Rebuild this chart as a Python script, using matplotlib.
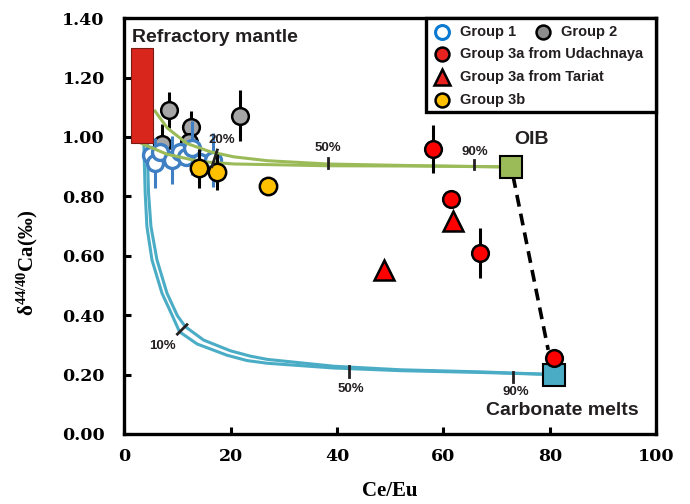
import matplotlib
matplotlib.use("Agg")
import matplotlib.pyplot as plt
from matplotlib.patches import Rectangle

plt.rcParams['mathtext.default'] = 'regular'

# ---- data ----
g1_x = [5.1, 5.8, 6.8, 9.0, 10.5, 11.7, 12.8, 14.3, 16.6]
g1_y = [0.939, 0.912, 0.949, 0.922, 0.949, 0.932, 0.963, 0.915, 0.922]
g1_err = [0.03, 0.085, 0.03, 0.08, 0.03, 0.03, 0.09, 0.03, 0.09]

g2_x = [8.5, 12.6, 21.7, 7.1, 12.1]
g2_y = [1.09, 1.032, 1.072, 0.975, 0.982]
g2_err = [0.06, 0.055, 0.085, 0.07, 0.0]

g3b_x = [14.0, 17.5, 27.1]
g3b_y = [0.894, 0.881, 0.835]
g3b_err = [0.067, 0.06, 0.0]

uda_x = [58.0, 61.4, 66.9, 80.8]
uda_y = [0.960, 0.790, 0.610, 0.255]
uda_err = [0.08, 0.0, 0.085, 0.0]

tariat_x = [61.8, 48.8]
tariat_y = [0.718, 0.552]

mantle_x = [1.3, 5.5]
mantle_y = [0.98, 1.30]
oib = (72.7, 0.90)
carb = (80.8, 0.20)

# mixing curves (mantle -> OIB, mantle -> carbonate melt)
green_up_x = [5.8, 8.1, 11.8, 16.2, 20.6, 26.9, 38.2, 55.7, 72.7]
green_up_y = [1.087, 1.030, 0.978, 0.950, 0.933, 0.920, 0.909, 0.903, 0.899]
green_lo_x = [3.3, 8.0, 14.3, 20.6, 38.2, 55.7, 72.7]
green_lo_y = [0.978, 0.942, 0.917, 0.909, 0.903, 0.902, 0.899]

blue_out_x = [4.4, 4.39, 4.58, 5.03, 6.16, 8.04, 10.0, 11.5, 14.93, 19.96, 23.7, 26.9,
              39.4, 52.0, 67.0, 80.8]
blue_out_y = [0.98, 0.922, 0.810, 0.698, 0.586, 0.474, 0.398, 0.361, 0.316, 0.280,
              0.262, 0.251, 0.228, 0.216, 0.209, 0.20]
blue_in_x = [3.7, 3.77, 3.95, 4.27, 5.22, 7.10, 9.0, 10.4, 13.69, 19.34, 23.1, 26.9,
             39.4, 52.0, 67.0, 80.8]
blue_in_y = [0.98, 0.922, 0.810, 0.698, 0.586, 0.474, 0.400, 0.344, 0.303, 0.265,
             0.247, 0.238, 0.222, 0.213, 0.207, 0.20]

dash_x = [73.1, 79.7]
dash_y = [0.868, 0.283]

# percent marks on the mixing curves: (x0, y0, x1, y1, label, lx, ly)
pct_marks = [
    (17.5, 0.956, 16.5, 0.900, '20%', 18.4, 0.99),
    (38.4, 0.928, 38.4, 0.894, '50%', 38.2, 0.963),
    (65.8, 0.922, 65.8, 0.892, '90%', 65.9, 0.950),
    (10.0, 0.336, 11.8, 0.368, '10%', 7.1, 0.297),
    (42.2, 0.229, 42.2, 0.191, '50%', 42.6, 0.150),
    (73.0, 0.208, 73.0, 0.174, '90%', 73.6, 0.142),
]

x_ticks = [0, 20, 40, 60, 80, 100]
y_ticks = [0.0, 0.2, 0.4, 0.6, 0.8, 1.0, 1.2, 1.4]

# ---- colours ----
c_green = '#9bbb59'
c_blue = '#4bacc6'
c_g1 = '#3f7fc4'
c_gray = '#a6a6a6'
c_red = '#ff0000'
c_yellow = '#ffc000'
c_txt = '#231f20'

fig = plt.figure(figsize=(6.9, 5.04), dpi=100)
ax = fig.add_axes([0.180, 0.139, 0.771, 0.825])

# mixing curves
ax.plot(blue_out_x, blue_out_y, color=c_blue, lw=2.2, zorder=2, solid_joinstyle='round')
ax.plot(blue_in_x, blue_in_y, color=c_blue, lw=2.2, zorder=2, solid_joinstyle='round')

# group 2 (gray)
ax.errorbar(g2_x, g2_y, yerr=g2_err, fmt='o', ms=12, mfc=c_gray, mec='black',
            mew=1.8, ecolor='black', elinewidth=2.2, capsize=0, zorder=3)
# group 1 (open blue)
ax.errorbar(g1_x, g1_y, yerr=g1_err, fmt='o', ms=11.5, mfc='white', mec=c_g1,
            mew=2.4, ecolor=c_g1, elinewidth=2.2, capsize=0, zorder=4)

ax.plot(green_up_x, green_up_y, color=c_green, lw=2.2, zorder=5, solid_joinstyle='round')
ax.plot(green_lo_x, green_lo_y, color=c_green, lw=2.2, zorder=5, solid_joinstyle='round')

# refractory mantle box
ax.add_patch(Rectangle((mantle_x[0], mantle_y[0]), mantle_x[1] - mantle_x[0],
                       mantle_y[1] - mantle_y[0], facecolor='#d9261c',
                       edgecolor='#7a1a14', lw=0.8, zorder=6))

# group 3b (yellow)
ax.errorbar(g3b_x, g3b_y, yerr=g3b_err, fmt='o', ms=12.5, mfc=c_yellow, mec='black',
            mew=1.8, ecolor='black', elinewidth=2.2, capsize=0, zorder=6)

for x0, y0, x1, y1, lab, lx, ly in pct_marks:
    ax.plot([x0, x1], [y0, y1], color=c_txt, lw=2.0, zorder=7)
    ax.text(lx, ly, lab, ha='center', va='center', fontsize=9.5,
            fontweight='bold', family='Liberation Sans', color=c_txt, zorder=7)

# OIB - carbonate dashed link
ax.plot(dash_x, dash_y, color='black', lw=2.6, ls=(0, (3.3, 2)), zorder=6)

# group 3a
ax.errorbar(uda_x, uda_y, yerr=uda_err, fmt='o', ms=12, mfc=c_red, mec='black',
            mew=1.8, ecolor='black', elinewidth=2.2, capsize=0, zorder=7)
ax.plot(tariat_x, tariat_y, '^', ms=14, mfc=c_red, mec='black', mew=1.8, zorder=7)

# endmember squares
ax.plot([oib[0]], [oib[1]], 's', ms=15.5, mfc=c_green, mec='black', mew=1.5, zorder=8)
ax.plot([carb[0]], [carb[1]], 's', ms=15.5, mfc=c_blue, mec='black', mew=1.5, zorder=6)

ax.text(1.5, 1.336, 'Refractory mantle', ha='left', va='center', fontsize=14,
        fontweight='bold', family='Liberation Sans', color=c_txt)
ax.text(76.5, 0.99, 'OIB', ha='center', va='center', fontsize=14,
        fontweight='bold', family='Liberation Sans', color=c_txt)
ax.text(82.3, 0.078, 'Carbonate melts', ha='center', va='center', fontsize=14,
        fontweight='bold', family='Liberation Sans', color=c_txt)

# axes styling
ax.set_xlim(0, 100)
ax.set_ylim(0, 1.40)
ax.set_xticks(x_ticks)
ax.set_yticks(y_ticks)
ax.set_xticklabels([str(v) for v in x_ticks])
ax.set_yticklabels(['%.2f' % v for v in y_ticks])
ax.tick_params(direction='in', length=5, width=2.2, colors='black')
ax.tick_params(axis='x', pad=10)
ax.tick_params(axis='y', pad=14)
for lab in ax.get_xticklabels() + ax.get_yticklabels():
    lab.set_family('DejaVu Serif')
    lab.set_fontweight('bold')
    lab.set_fontsize(12.5)
for s in ax.spines.values():
    s.set_linewidth(2.4)
    s.set_color('black')

ax.text(0.5, -0.137, 'Ce/Eu', transform=ax.transAxes, ha='center', va='center',
        fontsize=15, fontweight='bold', family='Liberation Serif')
ax.text(-0.182, 0.411, 'δ$^{44/40}$Ca(‰)', transform=ax.transAxes, ha='center',
        va='center', rotation=90, fontsize=15, fontweight='bold',
        family=['Liberation Serif', 'DejaVu Serif'])

# legend box (top-right corner)
ax.add_patch(Rectangle((0.568, 0.774), 0.432, 0.226, transform=ax.transAxes,
                       facecolor='white', edgecolor='black', lw=2.4, zorder=9,
                       clip_on=False))
leg_kw = dict(transform=ax.transAxes, zorder=10, clip_on=False)
ax.plot([0.597], [0.9656], 'o', ms=10, mfc='white', mec='#0a79d1', mew=2.2, **leg_kw)
ax.plot([0.788], [0.9656], 'o', ms=10, mfc='#8c8c8c', mec='black', mew=1.8, **leg_kw)
ax.plot([0.597], [0.9127], 'o', ms=10, mfc='#e8231f', mec='black', mew=1.8, **leg_kw)
ax.plot([0.597], [0.8575], '^', ms=11, mfc='#e8231f', mec='black', mew=1.8, **leg_kw)
ax.plot([0.597], [0.803], 'o', ms=10, mfc=c_yellow, mec='black', mew=1.8, **leg_kw)
leg_txt = [(0.632, 0.9656, 'Group 1'), (0.821, 0.9656, 'Group 2'),
           (0.632, 0.9127, 'Group 3a from Udachnaya'),
           (0.632, 0.8575, 'Group 3a from Tariat'), (0.632, 0.803, 'Group 3b')]
for tx, ty, t in leg_txt:
    ax.text(tx, ty, t, transform=ax.transAxes, ha='left', va='center', fontsize=10.5,
            fontweight='bold', family='Liberation Sans', color=c_txt, zorder=10)

fig.savefig('out.png', dpi=100)
